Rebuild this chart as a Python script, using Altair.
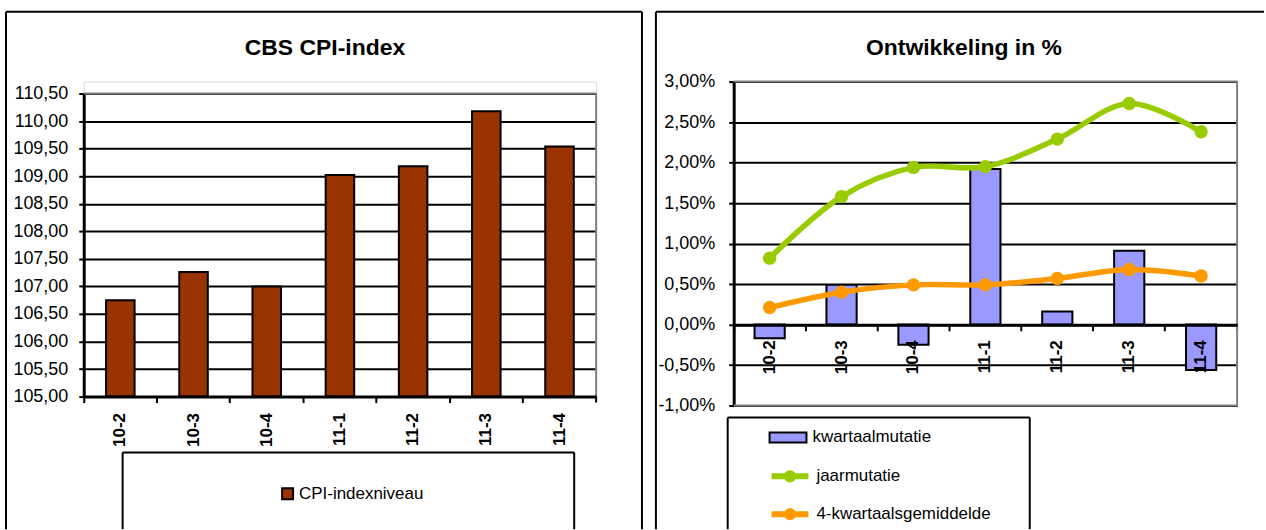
import altair as alt
import pandas as pd

# ---------------- data ----------------
quarters = ["10-2", "10-3", "10-4", "11-1", "11-2", "11-3", "11-4"]
cpi_index = [106.75, 107.26, 107.00, 109.02, 109.18, 110.18, 109.54]
kwartaalmutatie = [-0.17, 0.49, -0.25, 1.92, 0.16, 0.91, -0.56]
jaarmutatie = [0.82, 1.58, 1.94, 1.95, 2.29, 2.73, 2.38]
gemiddelde4 = [0.21, 0.40, 0.49, 0.49, 0.57, 0.68, 0.60]
left_ticks = [105.0, 105.5, 106.0, 106.5, 107.0, 107.5, 108.0, 108.5, 109.0, 109.5, 110.0, 110.5]
right_ticks = [-1.0, -0.5, 0.0, 0.5, 1.0, 1.5, 2.0, 2.5, 3.0]
titles = ["CBS CPI-index", "Ontwikkeling in %"]
bar_series = ["CPI-indexniveau", "kwartaalmutatie"]
line_series = ["jaarmutatie", "4-kwartaalsgemiddelde"]

FONT = "Liberation Sans"
C_CPI = "#993300"
C_KW = "#9999FF"
C_JAAR = "#99CC00"
C_GEM = "#FF9900"
GRAY = "#808080"

cpi_df = pd.DataFrame({"kwartaal": quarters, "waarde": cpi_index, "reeks": bar_series[0]})
kw_df = pd.DataFrame({"kwartaal": quarters, "waarde": kwartaalmutatie, "reeks": bar_series[1]})
line_df = pd.concat([
    pd.DataFrame({"kwartaal": quarters, "waarde": jaarmutatie, "reeks": line_series[0]}),
    pd.DataFrame({"kwartaal": quarters, "waarde": gemiddelde4, "reeks": line_series[1]}),
])
end_df = pd.DataFrame({"kwartaal": [quarters[-1]]})

ONE = alt.Data(values=[{"k": 0}])


def hrule(x, x2, y, color="black", w=2):
    return alt.Chart(ONE).mark_rule(color=color, strokeWidth=w).encode(
        x=alt.value(x), x2=alt.value(x2), y=alt.value(y))


def vrule(x, y, y2, color="black", w=2):
    return alt.Chart(ONE).mark_rule(color=color, strokeWidth=w).encode(
        x=alt.value(x), y=alt.value(y), y2=alt.value(y2))


def title_text(txt, x, y):
    return alt.Chart(alt.Data(values=[{"t": txt}])).mark_text(
        font=FONT, fontSize=23, fontWeight="bold", color="black",
        align="center", baseline="alphabetic").encode(
        x=alt.value(x), y=alt.value(y), text="t:N")


x_axis_common = dict(title=None, labelAngle=-90, labelFont=FONT, labelFontSize=17,
                     labelFontWeight="bold", labelColor="black", domainColor="black",
                     domainWidth=3, tickColor="black", tickWidth=2, tickSize=6,
                     bandPosition=0, zindex=1, grid=False, labelOverlap=False)
y_axis_common = dict(title=None, labelFont=FONT, labelFontSize=18, labelColor="black",
                     grid=True, gridColor="black", gridWidth=2, domainColor="black",
                     domainWidth=3, tickColor="black", tickWidth=2, tickSize=5,
                     labelOverlap=False)

# ---------------- left chart ----------------
W1, H1 = 514, 316
xL = alt.Scale(domain=quarters, paddingInner=0, paddingOuter=0)
yL = alt.Scale(domain=[105, 110.5], range=[316, 12], nice=False, zero=False)

bars_left = alt.Chart(cpi_df).mark_bar(width={"band": 0.39}, stroke="black", strokeWidth=2).encode(
    x=alt.X("kwartaal:N", scale=xL, sort=quarters,
            axis=alt.Axis(labelPadding=10, **x_axis_common)),
    y=alt.Y("waarde:Q", scale=yL,
            axis=alt.Axis(values=left_ticks, labelPadding=11,
                          labelExpr="replace(format(datum.value, '.2f'), '.', ',')",
                          **y_axis_common)),
    y2=alt.Y2("waarde_basis:Q"),
    fill=alt.Fill("reeks:N", scale=alt.Scale(domain=[bar_series[0]], range=[C_CPI]),
                  legend=alt.Legend(orient="none", legendX=196, legendY=405, title=None,
                                    padding=0, symbolType="square", symbolSize=121,
                                    symbolStrokeColor="black", symbolStrokeWidth=2,
                                    labelFont=FONT, labelFontSize=17, labelColor="black",
                                    labelOffset=3, labelLimit=400)),
).transform_calculate(waarde_basis="105")

# plot-area border (gray, top and right) and closing tick of the category axis
left_endtick = alt.Chart(end_df).mark_rule(color="black", strokeWidth=2).encode(
    x=alt.X("kwartaal:N", bandPosition=1), y=alt.value(H1), y2=alt.value(H1 + 6))

left = alt.layer(
    bars_left, left_endtick,
    hrule(0, W1, 12, GRAY), vrule(W1, 12, H1, GRAY),
    # panel frame
    vrule(-78, -70, 449), hrule(-78, 560, -70), vrule(560, -70, 449),
    # legend box
    vrule(39, 372, 449), hrule(39, 492, 372), vrule(492, 372, 449),
    title_text(titles[0], 242, -27),
).properties(width=W1, height=H1)

# ---------------- right chart ----------------
W2, H2 = 505, 325
ZERO_OFF = 81
xR = alt.Scale(domain=quarters, paddingInner=0, paddingOuter=0)
yR = alt.Scale(domain=[-1, 3], nice=False)
pct_expr = ("(datum.value < 0 ? '-' : '') + "
            "replace(format(abs(datum.value), '.2f'), '.', ',') + '%'")

BAR_PATH = "M-1,-0.27L1,-0.27L1,0.27L-1,0.27Z"
LINE_PATH = "M-1,0L1,0M-0.17,0A0.17,0.17,0,1,0,0.17,0A0.17,0.17,0,1,0,-0.17,0"

bars_right = alt.Chart(kw_df).mark_bar(width={"band": 0.42}, stroke="black", strokeWidth=2).encode(
    x=alt.X("kwartaal:N", scale=xR, sort=quarters,
            axis=alt.Axis(labelPadding=9, offset=-ZERO_OFF, **x_axis_common)),
    y=alt.Y("waarde:Q", scale=yR,
            axis=alt.Axis(values=right_ticks, labelPadding=14, labelExpr=pct_expr,
                          **y_axis_common)),
    fill=alt.Fill("reeks:N", scale=alt.Scale(domain=[bar_series[1]], range=[C_KW]),
                  legend=alt.Legend(orient="none", legendX=35, legendY=337.5, title=None,
                                    padding=0, symbolType=BAR_PATH, symbolSize=1369,
                                    symbolStrokeColor="black", symbolStrokeWidth=2,
                                    labelFont=FONT, labelFontSize=17, labelColor="black",
                                    labelOffset=5, labelLimit=400)),
)

lines_right = alt.Chart(line_df).mark_line(
    strokeWidth=5.5, interpolate="catmull-rom",
    point=alt.OverlayMarkDef(filled=True, size=180, shape="circle"),
).encode(
    x=alt.X("kwartaal:N", sort=quarters),
    y=alt.Y("waarde:Q"),
    color=alt.Color("reeks:N", scale=alt.Scale(domain=line_series, range=[C_JAAR, C_GEM]),
                    legend=alt.Legend(orient="none", legendX=35, legendY=374.5, title=None,
                                      padding=0, symbolType=LINE_PATH, symbolSize=1369,
                                      symbolStrokeWidth=6, rowPadding=1,
                                      labelFont=FONT, labelFontSize=17, labelColor="black",
                                      labelOffset=5, labelLimit=400)),
)

right_endtick = alt.Chart(end_df).mark_rule(color="black", strokeWidth=2).encode(
    x=alt.X("kwartaal:N", bandPosition=1),
    y=alt.value(H2 - ZERO_OFF), y2=alt.value(H2 - ZERO_OFF + 6))

right = alt.layer(
    bars_right, lines_right, right_endtick,
    hrule(0, W2, 0, GRAY), hrule(0, W2, H2, GRAY), vrule(W2, 0, H2, GRAY),
    # panel frame
    vrule(-78, -70, 449), hrule(-78, 532, -70),
    # legend box
    vrule(-6, 337, 449), hrule(-6, 297, 337), vrule(297, 337, 449),
    title_text(titles[1], 231, -27),
).properties(width=W2, height=H2).resolve_scale(fill="independent", color="independent")

chart = alt.hconcat(left, right, spacing=10).properties(
    padding={"left": 4, "top": 9, "right": 0, "bottom": 0},
    background="white",
).configure_view(strokeWidth=0).configure(font=FONT)

chart.save("out.html", embed_options={"renderer": "svg", "actions": False})
